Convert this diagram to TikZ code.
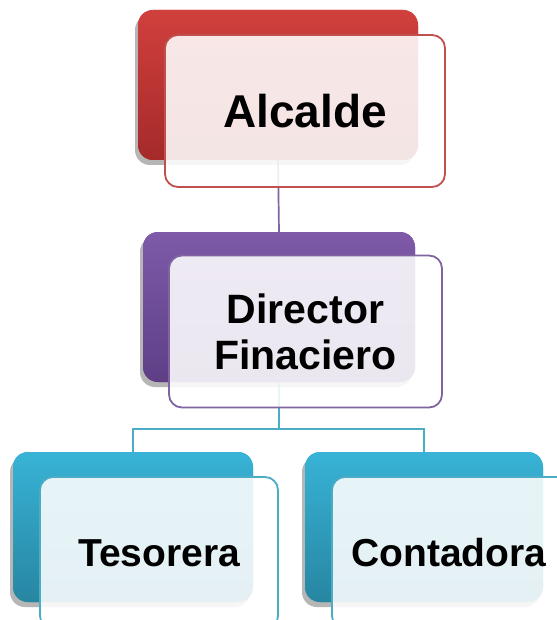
\documentclass[tikz,border=0pt]{standalone}
\usepackage{fontspec}
\setmainfont{Liberation Sans}
\usetikzlibrary{shadows}
\definecolor{redT}{HTML}{D0403D}
\definecolor{redB}{HTML}{A52A2A}
\definecolor{redL}{HTML}{C0504D}
\definecolor{purT}{HTML}{7E5AA8}
\definecolor{purB}{HTML}{5E3F86}
\definecolor{purL}{HTML}{8064A2}
\definecolor{bluT}{HTML}{38B3D6}
\definecolor{bluB}{HTML}{2786A2}
\definecolor{bluL}{HTML}{4BACC6}
\tikzset{
  backbox/.style={rounded corners=15pt, minimum height=150pt, draw=none,
    drop shadow={shadow xshift=-3pt, shadow yshift=-5pt, opacity=0.35}},
  frontbox/.style={rounded corners=13pt, minimum height=152pt, line width=1.8pt,
    fill=white, fill opacity=0.88, text opacity=1, draw opacity=1,
    font=\bfseries, align=center},
  conn/.style={line width=1.7pt},
}
\begin{document}
\begin{tikzpicture}[x=1pt,y=-1pt]
\useasboundingbox (0,0) rectangle (556,620);
% back boxes
\node[backbox, minimum width=280pt, top color=redT, bottom color=redB] (aback) at (278,85) {};
\node[backbox, minimum width=272pt, top color=purT, bottom color=purB] (dback) at (279,307) {};
\node[backbox, minimum width=240pt, top color=bluT, bottom color=bluB] (tback) at (133,527) {};
\node[backbox, minimum width=238pt, top color=bluT, bottom color=bluB] (cback) at (424,527) {};
% connectors
\draw[conn, purL] (aback.south) -- (dback.north);
\coordinate (mid) at (279,429);
\draw[conn, bluL] (dback.south) -- (mid);
\draw[conn, bluL] (tback.north) |- (mid) -| (cback.north);
% redraw back boxes over the lines
\node[backbox, minimum width=280pt, top color=redT, bottom color=redB] at (278,85) {};
\node[backbox, minimum width=272pt, top color=purT, bottom color=purB] at (279,307) {};
\node[backbox, minimum width=240pt, top color=bluT, bottom color=bluB] at (133,527) {};
\node[backbox, minimum width=238pt, top color=bluT, bottom color=bluB] at (424,527) {};
% front boxes
\node[frontbox, minimum width=280pt, draw=redL, font=\fontsize{46}{50}\selectfont\bfseries] (afront) at (305,111) {Alcalde};
\node[frontbox, minimum width=273pt, draw=purL, font=\fontsize{41}{46}\selectfont\bfseries] (dfront) at (305.5,331.5) {Director\\Finaciero};
\node[frontbox, minimum width=238pt, draw=bluL, font=\fontsize{39}{44}\selectfont\bfseries] (tfront) at (159,553) {Tesorera};
\node[frontbox, minimum width=238pt, draw=bluL, font=\fontsize{39}{44}\selectfont\bfseries] (cfront) at (451,553) {\hspace*{-2pt}Contadora\hspace*{2pt}};
\end{tikzpicture}
\end{document}
